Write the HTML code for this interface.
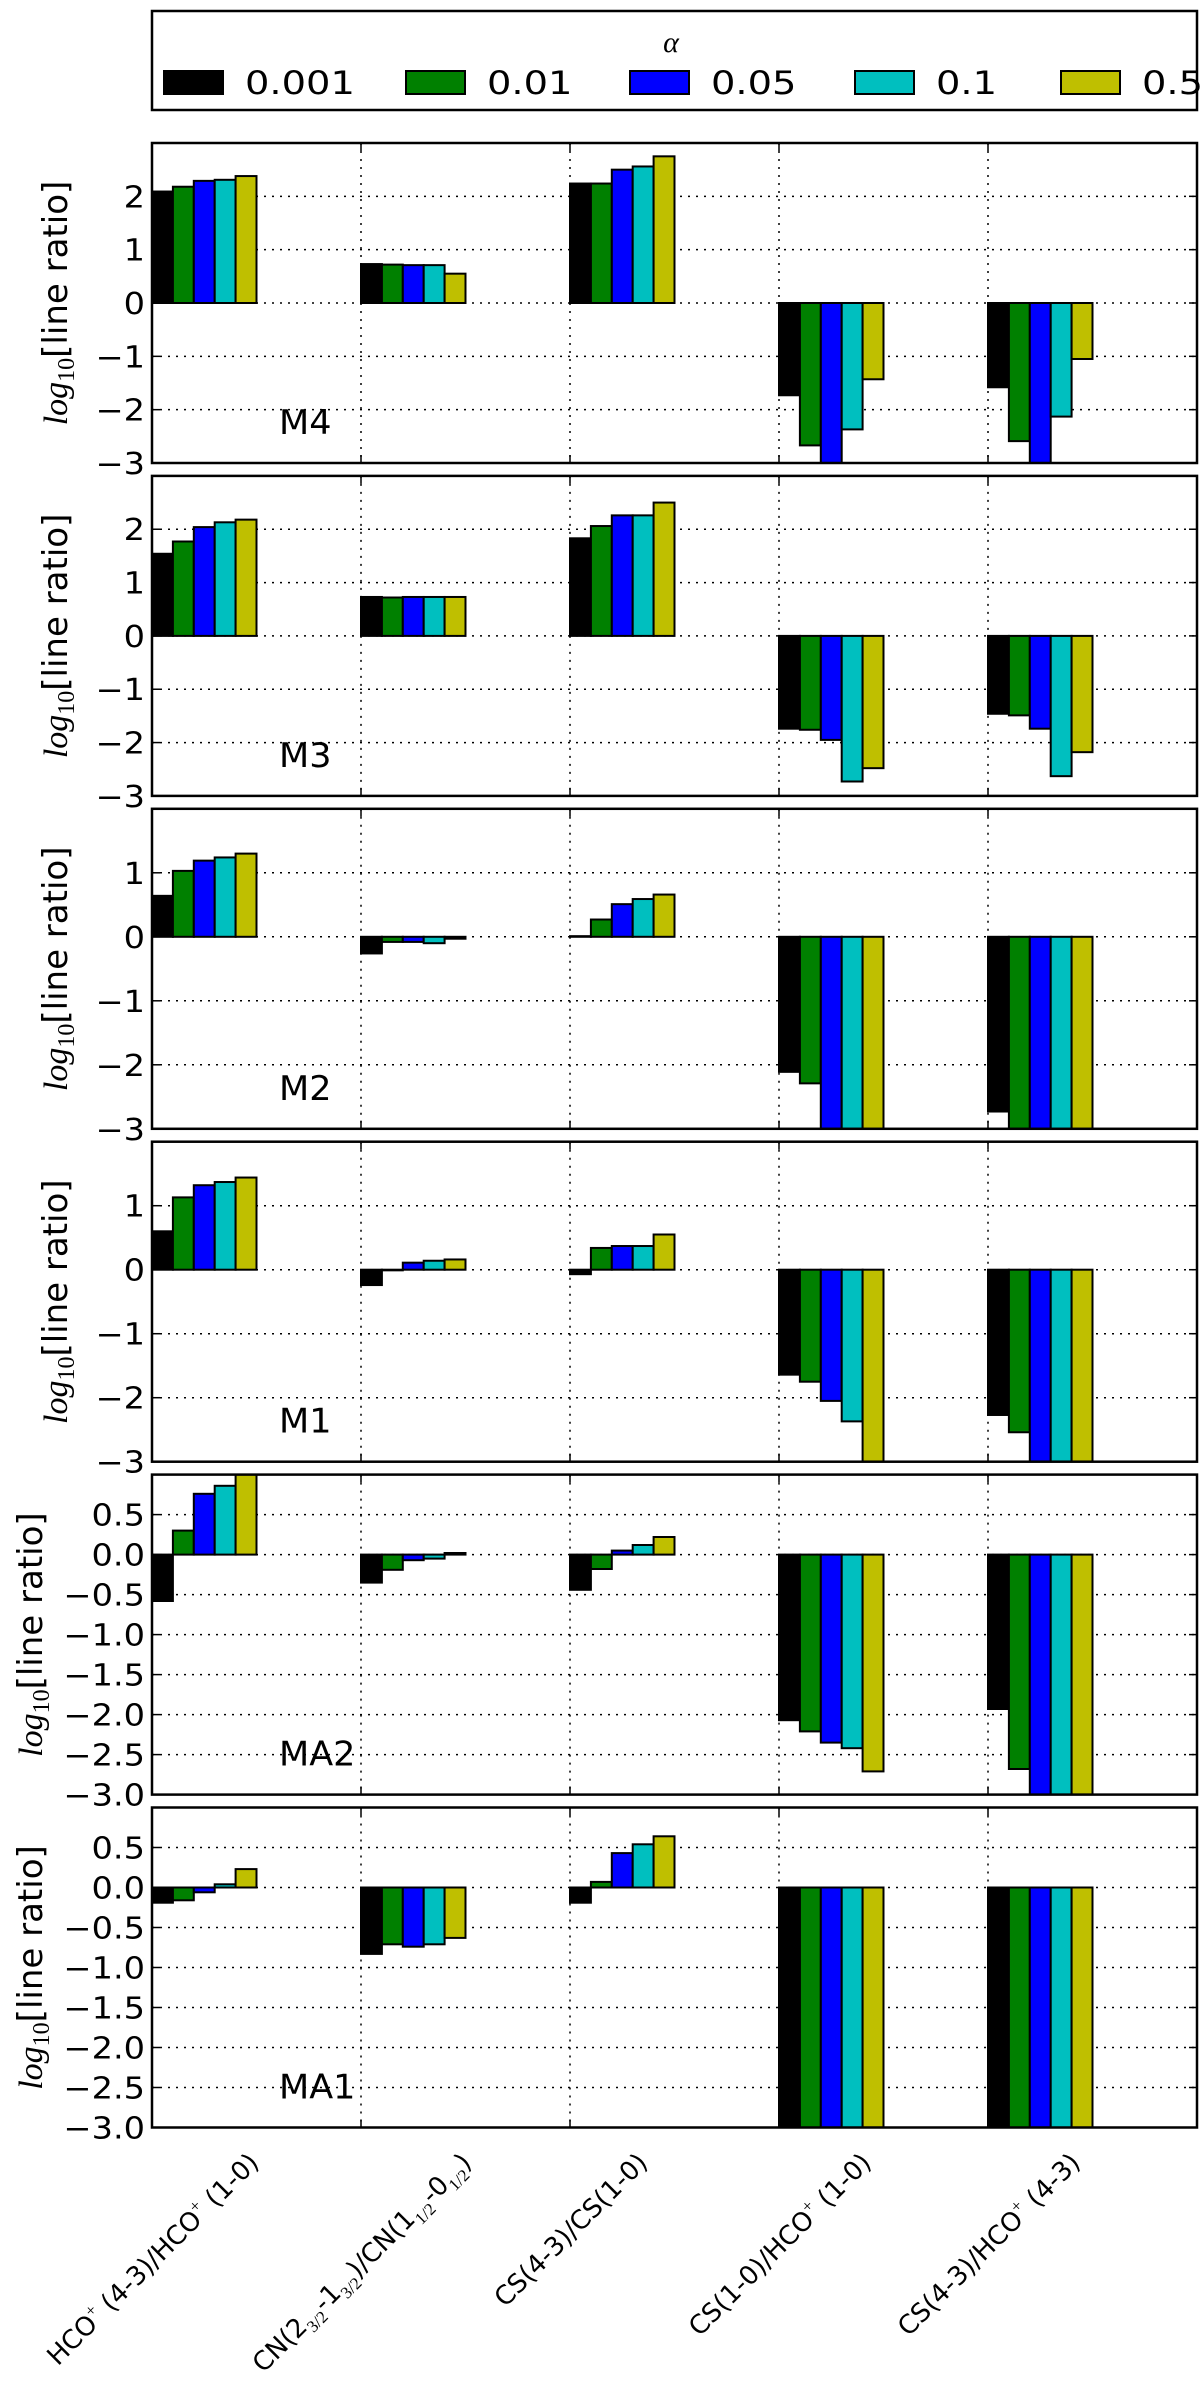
<!DOCTYPE html>
<html><head><meta charset="utf-8">
<style>
html,body{margin:0;padding:0;background:#fff;}
svg{display:block;}
text{font-family:"DejaVu Sans","Liberation Sans",sans-serif;fill:#000;}
</style></head>
<body>
<svg id="chart" width="1200" height="2385" viewBox="0 0 1200 2385" xmlns="http://www.w3.org/2000/svg">
  <g id="legend">
    <rect x="152" y="11" width="1045" height="99" fill="#fff" stroke="#000" stroke-width="2.5"/>
    <text x="671" y="52" text-anchor="middle" font-size="30" style="font-family:'Liberation Serif',serif;font-style:italic">α</text>
  </g>
  <g id="panels"></g>
  <g id="xlabels"></g>
</svg>
<script>
// ---- data ----
const categories = ["HCO+ (4-3)/HCO+ (1-0)","CN(2_3/2-1_3/2)/CN(1_1/2-0_1/2)","CS(4-3)/CS(1-0)","CS(1-0)/HCO+ (1-0)","CS(4-3)/HCO+ (4-3)"];
const alphas = ["0.001","0.01","0.05","0.1","0.5"];
const panelNames = ["M4","M3","M2","M1","MA2","MA1"];
const panelYMin = [-3,-3,-3,-3,-3,-3];
const panelYMax = [3,3,2,2,1,1];
const ticksInt6 = [-3,-2,-1,0,1,2];
const ticksInt5 = [-3,-2,-1,0,1];
const ticksHalf = [-3.0,-2.5,-2.0,-1.5,-1.0,-0.5,0.0,0.5];
// values per alpha: [panel][category]
const vals_a0001 = [
  [2.09,0.73,2.24,-1.73,-1.58],
  [1.54,0.73,1.83,-1.74,-1.46],
  [0.64,-0.26,0.01,-2.11,-2.73],
  [0.60,-0.24,-0.07,-1.64,-2.27],
  [-0.58,-0.35,-0.44,-2.07,-1.93],
  [-0.19,-0.83,-0.19,-3.3,-3.3]];
const vals_a001 = [
  [2.18,0.72,2.24,-2.67,-2.59],
  [1.77,0.72,2.06,-1.76,-1.49],
  [1.03,-0.08,0.27,-2.29,-3.3],
  [1.13,-0.01,0.34,-1.75,-2.54],
  [0.30,-0.19,-0.18,-2.21,-2.68],
  [-0.16,-0.71,0.07,-3.3,-3.3]];
const vals_a005 = [
  [2.29,0.71,2.50,-3.3,-3.3],
  [2.04,0.73,2.26,-1.95,-1.74],
  [1.19,-0.08,0.51,-3.3,-3.3],
  [1.32,0.11,0.37,-2.05,-3.3],
  [0.76,-0.07,0.05,-2.35,-3.3],
  [-0.06,-0.74,0.43,-3.3,-3.3]];
const vals_a01 = [
  [2.31,0.71,2.56,-2.37,-2.13],
  [2.13,0.73,2.26,-2.73,-2.63],
  [1.24,-0.10,0.59,-3.3,-3.3],
  [1.37,0.14,0.37,-2.37,-3.3],
  [0.86,-0.05,0.12,-2.42,-3.3],
  [0.04,-0.71,0.54,-3.3,-3.3]];
const vals_a05 = [
  [2.38,0.55,2.75,-1.43,-1.05],
  [2.18,0.73,2.50,-2.48,-2.18],
  [1.30,-0.03,0.66,-3.3,-3.3],
  [1.44,0.16,0.55,-3.3,-3.3],
  [1.05,0.02,0.22,-2.71,-3.3],
  [0.23,-0.63,0.64,-3.3,-3.3]];
const seriesVals = [vals_a0001, vals_a001, vals_a005, vals_a01, vals_a05];
const colors = ["#000000","#008000","#0000ff","#00bfbf","#bfbf00"];

// ---- layout ----
const NS = "http://www.w3.org/2000/svg";
const svg = document.getElementById("chart");
const PL = 152, PW = 1045, PH = 320, PTOP0 = 143, PSTEP = 332.9;
const XMIN = 0, XMAX = 5, BARW = 0.1;
function xScale(v){ return PL + (v - XMIN) / (XMAX - XMIN) * PW; }
function mk(tag, attrs, parent){ const e = document.createElementNS(NS, tag); for (const k in attrs) e.setAttribute(k, attrs[k]); if (parent) parent.appendChild(e); return e; }

const panelsG = document.getElementById("panels");
const defs = mk("defs", {}, svg);

panelNames.forEach((pname, p) => {
  const top = PTOP0 + p * PSTEP;
  const y0 = panelYMin[p], y1 = panelYMax[p];
  const yScale = v => top + (y1 - v) / (y1 - y0) * PH;
  const g = mk("g", {}, panelsG);
  
  
  const cp = mk("clipPath", {id: "clip" + p}, defs);
  mk("rect", {x: PL, y: top, width: PW, height: PH}, cp);

  const ticks = (y1 === 3) ? ticksInt6 : (y1 === 2 ? ticksInt5 : ticksHalf);
  const half = (y1 === 1);
  ticks.forEach(t => {
    const y = yScale(t);
    const gl = mk("line", {x1: PL, x2: PL + PW, y1: y, y2: y, stroke: "#000", "stroke-width": 1.5, "stroke-dasharray": "2,6"}, g);
    
    
  });
  for (let c = 1; c < categories.length; c++) {
    const x = xScale(c);
    const gl = mk("line", {x1: x, x2: x, y1: top, y2: top + PH, stroke: "#000", "stroke-width": 1.5, "stroke-dasharray": "2,6"}, g);
    
    
  }
  const bg = mk("g", {"clip-path": "url(#clip" + p + ")"}, g);
  seriesVals.forEach((sv, s) => {
    sv[p].forEach((v, c) => {
      const x = xScale(c + s * BARW);
      const w = xScale(c + (s + 1) * BARW) - x;
      const ya = yScale(Math.max(v, 0)), yb = yScale(Math.min(v, 0));
      const r = mk("rect", {x: x, y: ya, width: w, height: Math.max(yb - ya, 0.5), fill: colors[s], stroke: "#000", "stroke-width": 2}, bg);
      
      
    });
  });
  ticks.forEach(t => {
    const y = yScale(t);
    mk("line", {x1: PL, x2: PL + 8, y1: y, y2: y, stroke: "#000", "stroke-width": 1.5}, g);
    mk("line", {x1: PL + PW - 8, x2: PL + PW, y1: y, y2: y, stroke: "#000", "stroke-width": 1.5}, g);
    const lbl = (t < 0 ? "\u2212" : "") + (half ? Math.abs(t).toFixed(1) : Math.abs(t));
    const tx = mk("text", {x: 0, y: 0, "text-anchor": "end", "font-size": 30, transform: "translate(145 " + (y + 11) + ") scale(1.12 1)"}, g);
    tx.textContent = lbl;
    
    
  });
  for (let c = 1; c < categories.length; c++) {
    const x = xScale(c);
    mk("line", {x1: x, x2: x, y1: top, y2: top + 8, stroke: "#000", "stroke-width": 1.5}, g);
    mk("line", {x1: x, x2: x, y1: top + PH - 8, y2: top + PH, stroke: "#000", "stroke-width": 1.5}, g);
  }
  const fr = mk("rect", {x: PL, y: top, width: PW, height: PH, fill: "none", stroke: "#000", "stroke-width": 2.5}, g);
  
  
  const pl = mk("text", {x: 0, y: 0, "font-size": 34, transform: "translate(279 " + (top + 291) + ") scale(1.03 1)"}, g);
  pl.textContent = pname;
  
  
  const cx = half ? 30 : 55, cy = top + PH / 2;
  const yt = mk("text", {x: cx, y: cy, "text-anchor": "middle", "font-size": 34, transform: "rotate(-90 " + cx + " " + cy + ") translate(0 12)"}, g);
  
  
  const t1 = mk("tspan", {style: "font-family:'Liberation Serif',serif;font-style:italic"}, yt); t1.textContent = "log";
  const t2 = mk("tspan", {style: "font-family:'Liberation Serif',serif", "font-size": 24, dy: 7}, yt); t2.textContent = "10";
  const t3 = mk("tspan", {dy: -7}, yt); t3.textContent = "[line ratio]";
});

const legendG = document.getElementById("legend");
const legPatchX = [164, 406, 630, 855, 1061];
alphas.forEach((a, i) => {
  const r = mk("rect", {x: legPatchX[i], y: 71, width: 59, height: 23, fill: colors[i], stroke: "#000", "stroke-width": 2}, legendG);
  
  
  const t = mk("text", {x: 0, y: 0, "font-size": 32, transform: "translate(" + (legPatchX[i] + 81) + " 94) scale(1.2 1)"}, legendG);
  t.textContent = a;
  
  
});

const xlG = document.getElementById("xlabels");
const labelParts = [
  [["HCO",0],["+",-1],[" (4-3)/HCO",0],["+",-1],[" (1-0)",0]],
  [["CN(2",0],["3/2",1],["-1",0],["3/2",1],[")/CN(1",0],["1/2",1],["-0",0],["1/2",1],[")",0]],
  [["CS(4-3)/CS(1-0)",0]],
  [["CS(1-0)/HCO",0],["+",-1],[" (1-0)",0]],
  [["CS(4-3)/HCO",0],["+",-1],[" (4-3)",0]]
];
const XL_TOP = 2150, FS = 26;
labelParts.forEach((parts, c) => {
  const t = mk("text", {x: 0, y: 0, "text-anchor": "end", "font-size": FS}, xlG);
  
  
  let cur = 0;
  parts.forEach(([s, k]) => {
    const target = k === 1 ? 7 : (k === -1 ? -11 : 0);
    const ts = mk("tspan", {dy: target - cur}, t);
    if (k !== 0) { ts.setAttribute("font-size", 17); ts.setAttribute("style", "font-family:'Liberation Serif',serif"); }
    ts.textContent = s;
    cur = target;
  });
  let L = 280;
  try { L = t.getComputedTextLength(); } catch(e) {}
  const asc = 20;
  const px = xScale(c) + (L + asc) * 0.7071 / 2;
  const py = XL_TOP + asc * 0.7071;
  t.setAttribute("transform", "translate(" + px + " " + py + ") rotate(-45)");
});
</script>
</body></html>
